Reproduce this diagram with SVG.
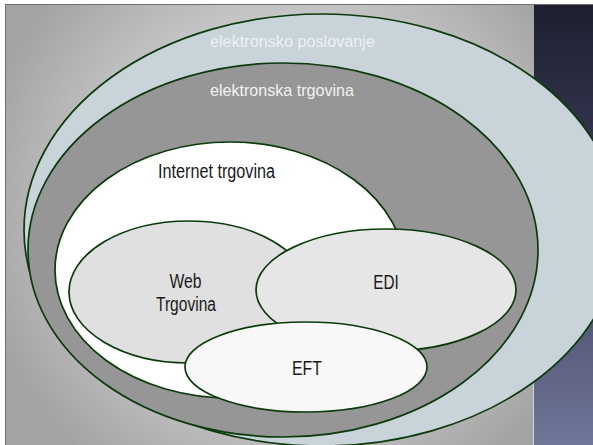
<svg xmlns="http://www.w3.org/2000/svg" width="593" height="445" viewBox="0 0 593 445">
  <defs>
    <radialGradient id="bg" gradientUnits="userSpaceOnUse" cx="290" cy="210" r="320">
      <stop offset="0" stop-color="#d6d6d6"/>
      <stop offset="0.55" stop-color="#cbcbcb"/>
      <stop offset="1" stop-color="#a3a3a3"/>
    </radialGradient>
    <linearGradient id="dark" x1="0" y1="0" x2="0" y2="1">
      <stop offset="0" stop-color="#1d1f30"/>
      <stop offset="0.45" stop-color="#3b3e5a"/>
      <stop offset="1" stop-color="#70769a"/>
    </linearGradient>
  </defs>
  <style>
    .ring { stroke: #0b3a0b; stroke-width: 1.7; }
    .lbl { font-family: "Liberation Sans Narrow", "Liberation Sans", Arial, sans-serif; text-anchor: middle; }
    .dark { fill: #1a1a1a; font-size: 20px; }
    .light { font-size: 17px; }
  </style>
  <rect x="0" y="0" width="593" height="445" fill="#ffffff"/>
  <rect x="5" y="4" width="529" height="441" fill="url(#bg)"/>
  <rect x="534" y="4" width="59" height="441" fill="url(#dark)"/>
  <line x1="533.5" y1="380" x2="533.5" y2="445" stroke="#cfd3e0" stroke-width="1"/>
  <path d="M5.5 445 V4.5 H593" fill="none" stroke="#6e6e6e" stroke-width="1"/>

  <g id="elektronsko-poslovanje">
    <ellipse class="ring" cx="322" cy="230" rx="298" ry="216" fill="#c8d3da"/>
    <text class="lbl light" x="292.5" y="47" fill="#eef2f5" textLength="165" lengthAdjust="spacingAndGlyphs">elektronsko poslovanje</text>
  </g>
  <g id="elektronska-trgovina">
    <ellipse class="ring" cx="283" cy="250" rx="255" ry="187" fill="#969696"/>
    <text class="lbl light" x="282" y="96" fill="#f2f2f2" textLength="144" lengthAdjust="spacingAndGlyphs">elektronska trgovina</text>
  </g>
  <g id="internet-trgovina">
    <ellipse class="ring" cx="230" cy="270" rx="175" ry="128" fill="#ffffff"/>
    <text class="lbl dark" x="216.5" y="178" textLength="117" lengthAdjust="spacingAndGlyphs">Internet trgovina</text>
  </g>
  <g id="web-trgovina">
    <ellipse class="ring" cx="189" cy="292" rx="120" ry="71" fill="#e0e0e0"/>
    <text class="lbl dark" x="185.5" y="288" textLength="32" lengthAdjust="spacingAndGlyphs">Web</text>
    <text class="lbl dark" x="186" y="311" textLength="60" lengthAdjust="spacingAndGlyphs">Trgovina</text>
  </g>
  <g id="edi">
    <ellipse class="ring" cx="386" cy="290" rx="130" ry="61" fill="#e6e6e6"/>
    <text class="lbl dark" x="386" y="289" textLength="25.5" lengthAdjust="spacingAndGlyphs">EDI</text>
  </g>
  <g id="eft">
    <ellipse class="ring" cx="306" cy="367" rx="121" ry="45" fill="#f8f8f8"/>
    <text class="lbl dark" x="307" y="375" textLength="30" lengthAdjust="spacingAndGlyphs">EFT</text>
  </g>
  <g id="connectors"/>
</svg>
